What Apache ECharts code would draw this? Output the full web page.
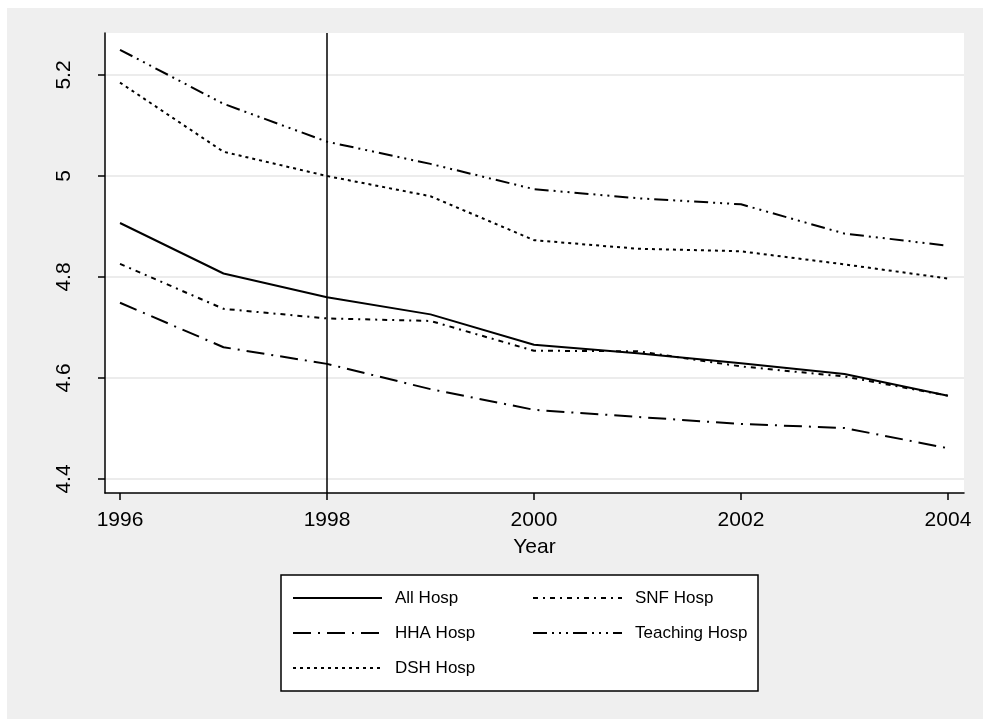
<!DOCTYPE html>
<html>
<head>
<meta charset="utf-8">
<script src="https://cdn.jsdelivr.net/npm/echarts@6/dist/echarts.min.js"></script>
<style>
  html, body { margin: 0; padding: 0; background: #fff; }
  #chart {
    width: 985px; height: 719px;
    background: linear-gradient(#efefef, #efefef) 7px 8px / 976px 711px no-repeat, #fff;
  }
</style>
</head>
<body>
<div id="chart"></div>
<script>
// Average length of stay (log) by hospital group, 1996-2004
const years = [1996, 1997, 1998, 1999, 2000, 2001, 2002, 2003, 2004];
const allHosp      = [4.907, 4.807, 4.760, 4.726, 4.666, 4.649, 4.629, 4.608, 4.565];
const snfHosp      = [4.826, 4.737, 4.718, 4.713, 4.654, 4.653, 4.623, 4.603, 4.565];
const hhaHosp      = [4.749, 4.661, 4.628, 4.578, 4.537, 4.523, 4.509, 4.501, 4.461];
const teachingHosp = [5.250, 5.143, 5.068, 5.024, 4.974, 4.956, 4.944, 4.886, 4.862];
const dshHosp      = [5.185, 5.048, 5.000, 4.960, 4.873, 4.856, 4.851, 4.825, 4.797];

const xTicks = [1996, 1998, 2000, 2002, 2004];
const yTicks = [4.4, 4.6, 4.8, 5.0, 5.2];
const policyYear = 1998;

const FONT = '"Liberation Sans", Arial, Helvetica, sans-serif';

function pairs(vals) {
  return years.map((y, i) => [y, vals[i]]);
}

function lineSeries(name, vals, dash) {
  return {
    name: name,
    type: 'line',
    data: pairs(vals),
    symbol: 'none',
    smooth: false,
    lineStyle: { color: '#000', width: 2, type: dash, cap: 'butt' },
    itemStyle: { color: '#000' },
    z: 3
  };
}

const series = [
  lineSeries('All Hosp', allHosp, 'solid'),
  lineSeries('SNF Hosp', snfHosp, [5, 5, 2, 5]),
  lineSeries('HHA Hosp', hhaHosp, [18, 7, 2, 7]),
  lineSeries('Teaching Hosp', teachingHosp, [14, 5, 2, 5, 2, 5, 2, 5]),
  lineSeries('DSH Hosp', dshHosp, [3, 4])
];

// vertical reference line at the policy year
series[0].markLine = {
  silent: true,
  symbol: ['none', 'none'],
  label: { show: false },
  lineStyle: { color: '#000', width: 1.5, type: 'solid' },
  data: [{ xAxis: policyYear }]
};

const chart = echarts.init(document.getElementById('chart'), null, { renderer: 'canvas' });
chart.setOption({
  animation: false,
  backgroundColor: 'transparent',
  textStyle: { fontFamily: FONT, color: '#000' },
  grid: {
    left: 105, top: 33, right: 21, bottom: 226,
    show: true, backgroundColor: '#fff', borderWidth: 0
  },
  legend: {
    data: ['All Hosp', 'SNF Hosp', 'HHA Hosp', 'Teaching Hosp', 'DSH Hosp'],
    orient: 'horizontal',
    left: 281, top: 575,
    width: 475,
    padding: [13, 1, 13, 11],
    itemGap: 15,
    itemWidth: 89,
    itemHeight: 14,
    backgroundColor: '#fff',
    borderColor: '#000',
    borderWidth: 1.5,
    borderRadius: 0,
    selectedMode: false,
    itemStyle: { opacity: 0 },
    textStyle: {
      fontFamily: FONT, fontSize: 17, color: '#000',
      width: 122, lineHeight: 20, padding: [0, 0, 0, 8]
    }
  },
  xAxis: {
    type: 'value',
    min: 1995.855, max: 2004.155,
    name: 'Year',
    nameLocation: 'middle',
    nameGap: 44,
    nameTextStyle: { fontFamily: FONT, fontSize: 21, color: '#000' },
    axisLine: { show: true, onZero: false, lineStyle: { color: '#000', width: 1.5 } },
    axisTick: { show: true, length: 7, lineStyle: { color: '#000', width: 1.5 }, customValues: xTicks },
    axisLabel: {
      fontFamily: FONT, fontSize: 21, color: '#000', margin: 17,
      customValues: xTicks,
      formatter: v => String(v)
    },
    splitLine: { show: false }
  },
  yAxis: {
    type: 'value',
    min: 4.3723, max: 5.2832,
    axisLine: { show: true, onZero: false, lineStyle: { color: '#000', width: 1.5 } },
    axisTick: { show: true, length: 7, lineStyle: { color: '#000', width: 1.5 }, customValues: yTicks },
    axisLabel: {
      fontFamily: FONT, fontSize: 21, color: '#000', margin: 30, rotate: 90,
      customValues: yTicks,
      formatter: v => String(Math.round(v * 10) / 10)
    },
    splitLine: { show: true, lineStyle: { color: '#e6e6e6', width: 1.5 } }
  },
  series: series
});
</script>
</body>
</html>
